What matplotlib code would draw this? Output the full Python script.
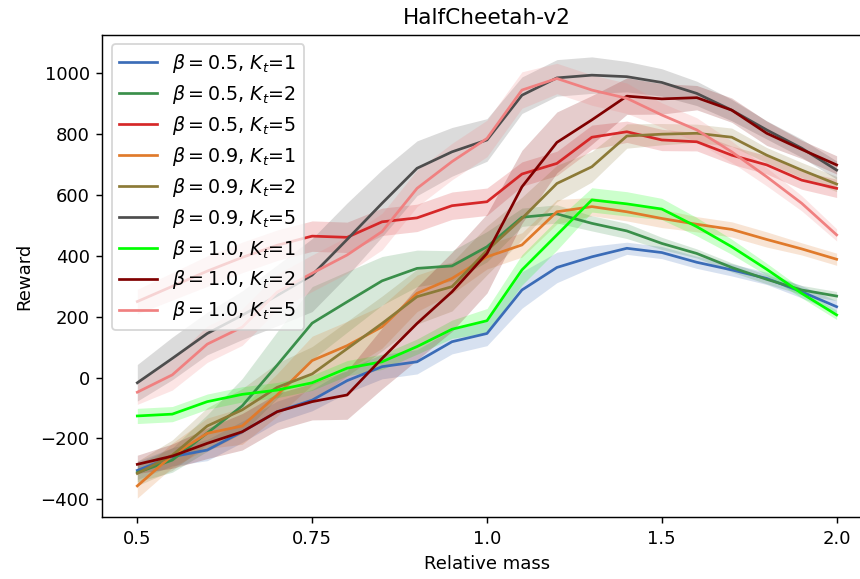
import numpy as np
import matplotlib as ml
ml.use('Agg')
import matplotlib.pyplot as plt

# relative masses (plotted on an even index axis)
masses = [0.5, 0.55, 0.6, 0.65, 0.7, 0.75, 0.8, 0.85, 0.9, 0.95, 1.0,
          1.1, 1.2, 1.3, 1.4, 1.5, 1.6, 1.7, 1.8, 1.9, 2.0]
tick_labels = ['0.5', '0.75', '1.0', '1.5', '2.0']
tick_idx = [0, 5, 10, 15, 20]

labels = [r'$\beta=0.5$, $K_t$=1', r'$\beta=0.5$, $K_t$=2', r'$\beta=0.5$, $K_t$=5',
          r'$\beta=0.9$, $K_t$=1', r'$\beta=0.9$, $K_t$=2', r'$\beta=0.9$, $K_t$=5',
          r'$\beta=1.0$, $K_t$=1', r'$\beta=1.0$, $K_t$=2', r'$\beta=1.0$, $K_t$=5']
colors = ['#3b6cb7', '#3a8f4a', '#d62728', '#e07a2b', '#8c7a37',
          '#4d4d4d', '#00ff00', '#800000', '#f08080']

# mean reward
b05_k1 = [-305, -260, -238, -178, -112, -74, -10, 36, 52, 118, 145,
          288, 362, 397, 425, 411, 379, 354, 326, 282, 233]
b05_k2 = [-312, -271, -182, -93, 41, 179, 249, 318, 359, 367, 430,
          527, 538, 507, 482, 441, 408, 362, 323, 288, 268]
b05_k5 = [250, 300, 350, 395, 435, 465, 461, 512, 525, 565, 578,
          669, 704, 790, 808, 781, 775, 731, 699, 649, 622]
b09_k1 = [-356, -255, -183, -159, -57, 56, 105, 167, 277, 326, 397,
          436, 545, 562, 545, 523, 504, 487, 454, 423, 389]
b09_k2 = [-315, -255, -159, -106, -32, 12, 95, 178, 266, 299, 418,
          523, 638, 693, 794, 800, 803, 790, 731, 682, 636]
b09_k5 = [-17, 63, 145, 205, 270, 337, 454, 573, 688, 742, 781,
          928, 985, 994, 989, 970, 934, 879, 814, 754, 682]
b10_k1 = [-126, -120, -79, -55, -41, -17, 31, 52, 102, 159, 187,
          354, 469, 584, 571, 554, 496, 430, 356, 277, 206]
b10_k2 = [-285, -258, -216, -178, -112, -79, -57, 63, 178, 282, 408,
          627, 773, 847, 925, 916, 920, 879, 803, 750, 699]
b10_k5 = [-48, 9, 110, 166, 281, 343, 403, 480, 622, 710, 786,
          945, 983, 945, 918, 863, 814, 742, 660, 573, 469]

# spread of the shaded bands
s05_k1 = [30, 30, 35, 35, 35, 35, 40, 40, 40, 40, 40, 60, 50, 35, 20, 20, 20, 20, 20, 20, 20]
s05_k2 = [30, 40, 60, 90, 110, 120, 100, 80, 60, 50, 50, 30, 30, 25, 25, 20, 15, 15, 15, 15, 15]
s05_k5 = [40, 45, 50, 50, 50, 50, 50, 45, 45, 45, 45, 40, 40, 40, 35, 35, 30, 30, 30, 30, 30]
s09_k1 = [40, 40, 50, 60, 70, 80, 80, 70, 60, 50, 40, 40, 40, 30, 30, 30, 25, 25, 25, 20, 20]
s09_k2 = [40, 50, 60, 70, 80, 90, 90, 90, 90, 80, 80, 70, 60, 50, 40, 35, 30, 30, 25, 25, 25]
s09_k5 = [60, 70, 70, 80, 100, 120, 120, 110, 90, 80, 70, 60, 60, 60, 50, 45, 40, 35, 30, 30, 30]
s10_k1 = [25, 25, 25, 25, 25, 25, 25, 25, 25, 30, 40, 50, 50, 40, 40, 35, 30, 25, 20, 15, 15]
s10_k2 = [30, 40, 50, 60, 60, 60, 80, 100, 120, 130, 130, 120, 100, 80, 60, 50, 40, 40, 40, 30, 30]
s10_k5 = [40, 50, 60, 60, 60, 60, 60, 60, 60, 60, 60, 60, 50, 50, 50, 40, 40, 35, 30, 25, 20]

means = [b05_k1, b05_k2, b05_k5, b09_k1, b09_k2, b09_k5, b10_k1, b10_k2, b10_k5]
spreads = [s05_k1, s05_k2, s05_k5, s09_k1, s09_k2, s09_k5, s10_k1, s10_k2, s10_k5]

fig = plt.figure(figsize=(860/130., 579/130.), dpi=130)
# right spine falls just outside the picture, as in the original crop
ax = fig.add_axes([0.119, 0.1066, 0.8945, 0.8335])

x = np.arange(len(masses))
for m, s, c, lab in zip(means, spreads, colors, labels):
    m = np.asarray(m, dtype=float)
    s = np.asarray(s, dtype=float)
    ax.plot(x, m, color=c, label=lab)
    ax.fill_between(x, m - s, m + s, color=c, alpha=0.2, linewidth=0)

ax.set_xticks(tick_idx)
ax.set_xticklabels(tick_labels)
ax.set_xlim(-1, 21)
ax.set_ylim(-459, 1127)
ax.set_xlabel('Relative mass')
ax.set_ylabel('Reward')
ax.set_title('HalfCheetah-v2')
ax.legend(loc='upper left', fontsize=10.5, labelspacing=0.42)

fig.savefig('out.png', dpi=130)
